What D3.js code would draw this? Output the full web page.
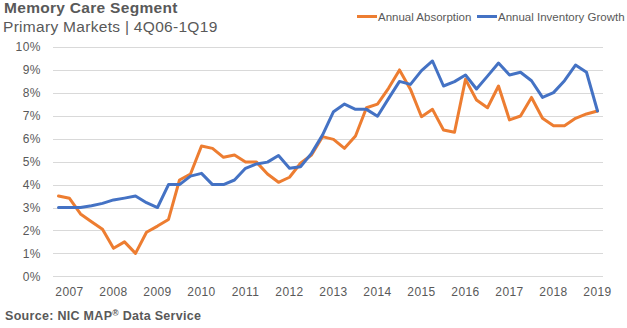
<!DOCTYPE html>
<html><head><meta charset="utf-8">
<script src="https://cdn.jsdelivr.net/npm/d3@7"></script>
<style>body{margin:0;background:#fff;}svg{display:block;font-family:"Liberation Sans",Arial,sans-serif;}</style>
</head><body>
<script>
const quarters = [];
(function(){ quarters.push("4Q06"); for (let y=7;y<=18;y++) for (let q=1;q<=4;q++) quarters.push(q+"Q"+String(y).padStart(2,"0")); quarters.push("1Q19"); })();
const absorption = [3.5,3.4,2.72,2.38,2.05,1.22,1.5,1.0,1.92,2.19,2.48,4.2,4.46,5.68,5.58,5.19,5.29,4.98,4.98,4.46,4.1,4.32,4.93,5.29,6.09,5.97,5.58,6.12,7.35,7.51,8.2,9.0,8.15,6.96,7.28,6.38,6.28,8.59,7.69,7.35,8.3,6.82,6.99,7.8,6.89,6.57,6.57,6.89,7.08,7.21];
const inventoryGrowth = [3.0,3.0,3.0,3.08,3.18,3.33,3.41,3.5,3.21,3.0,4.0,4.0,4.37,4.49,4.0,4.0,4.2,4.71,4.9,4.98,5.27,4.71,4.78,5.36,6.16,7.18,7.51,7.28,7.28,6.98,7.75,8.5,8.37,8.97,9.39,8.3,8.49,8.78,8.17,8.73,9.3,8.78,8.9,8.53,7.8,8.01,8.53,9.21,8.9,7.21];
const yTicks = [0,1,2,3,4,5,6,7,8,9,10];
const xTickQuarters = ["1Q07","1Q08","1Q09","1Q10","1Q11","1Q12","1Q13","1Q14","1Q15","1Q16","1Q17","1Q18","1Q19"];
const seriesNames = ["Annual Absorption","Annual Inventory Growth"];
const colors = ["#ED7D31","#4472C4"];

const W=627,H=328;
const svg=d3.select("body").append("svg").attr("width",W).attr("height",H);
const x=d3.scaleBand().domain(quarters).range([53,603]);
const y=d3.scaleLinear().domain([0,10]).range([276.3,47]);
const txt="#595959";

svg.append("text").attr("x",4).attr("y",13).attr("font-size",15.5).attr("letter-spacing",0.3).attr("font-weight","bold").attr("fill",txt).text("Memory Care Segment");
svg.append("text").attr("x",3).attr("y",31.5).attr("font-size",15.5).attr("letter-spacing",0.3).attr("fill",txt).text("Primary Markets | 4Q06-1Q19");

// gridlines
svg.append("g").selectAll("line").data(yTicks).join("line")
  .attr("x1",53).attr("x2",603).attr("y1",d=>Math.round(y(d))+0.5).attr("y2",d=>Math.round(y(d))+0.5)
  .attr("stroke","#d9d9d9").attr("stroke-width",1);

const yAxis=svg.append("g").attr("transform","translate(53,0)")
  .call(d3.axisLeft(y).tickValues(yTicks).tickFormat(d=>d+"%").tickSize(0).tickPadding(12));
yAxis.select(".domain").remove();
yAxis.selectAll("text").attr("font-size",12).attr("letter-spacing",0.5).attr("fill",txt).attr("font-family","'Liberation Sans',Arial,sans-serif");

const xAxis=svg.append("g").attr("transform","translate(0,276)")
  .call(d3.axisBottom(x).tickValues(xTickQuarters).tickFormat(d=>"20"+d.slice(2)).tickSize(0).tickPadding(11));
xAxis.select(".domain").remove();
xAxis.selectAll("text").attr("font-size",12).attr("letter-spacing",0.4).attr("fill",txt).attr("font-family","'Liberation Sans',Arial,sans-serif");

const line=d3.line().x((d,i)=>x(quarters[i])+x.bandwidth()/2).y(d=>y(d));
[absorption,inventoryGrowth].forEach((s,k)=>{
  svg.append("path").datum(s).attr("d",line).attr("fill","none").attr("stroke",colors[k])
    .attr("stroke-width",3).attr("stroke-linejoin","round").attr("stroke-linecap","round");
});

// legend
const leg=[{x:357,tx:378},{x:477,tx:498}];
seriesNames.forEach((n,k)=>{
  svg.append("line").attr("x1",leg[k].x).attr("x2",leg[k].x+20).attr("y1",16.5).attr("y2",16.5).attr("stroke",colors[k]).attr("stroke-width",3);
  svg.append("text").attr("x",leg[k].tx).attr("y",20.5).attr("font-size",11.5).attr("fill",txt).text(n);
});

const src=svg.append("text").attr("x",5).attr("y",320).attr("font-size",12.5).attr("letter-spacing",0.3).attr("font-weight","bold").attr("fill",txt);
src.append("tspan").text("Source: NIC MAP");
src.append("tspan").attr("font-size",8.5).attr("dy",-4).text("®");
src.append("tspan").attr("dy",4).text(" Data Service");
</script>
</body></html>
